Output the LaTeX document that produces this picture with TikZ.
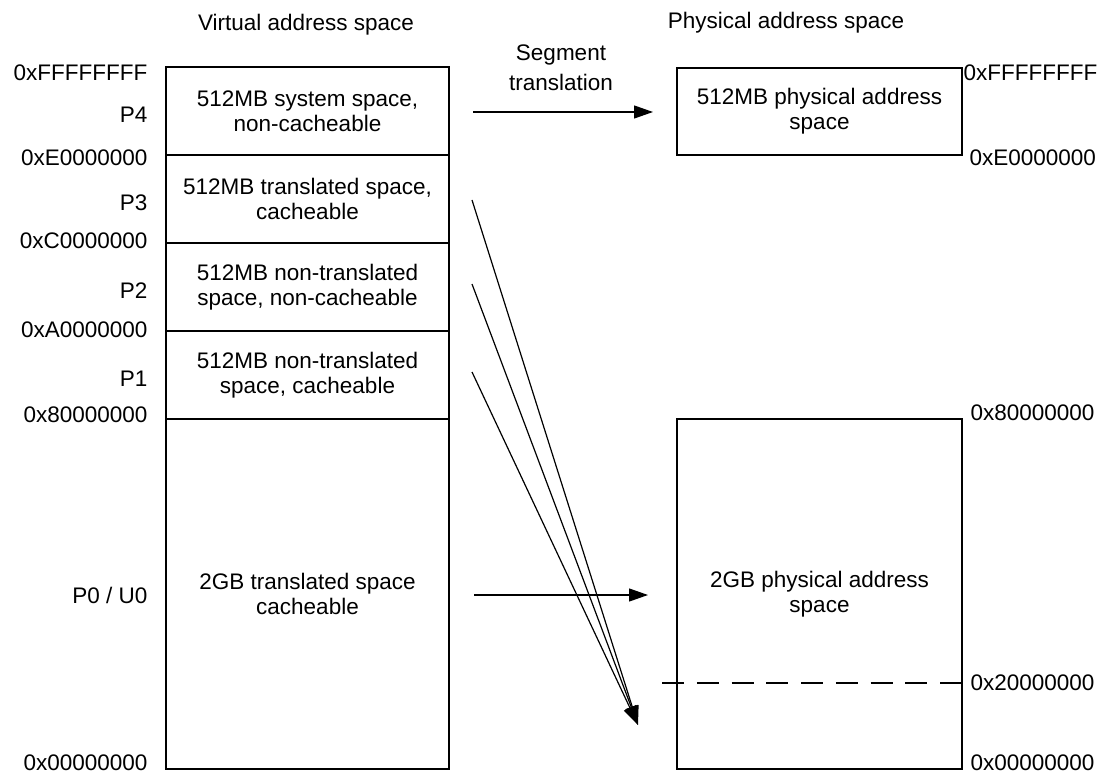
\documentclass[tikz,border=0pt]{standalone}
\usepackage{fontspec}
\setmainfont{Liberation Sans}
\usetikzlibrary{arrows.meta}
\begin{document}
\begin{tikzpicture}[x=1pt,y=-1pt,
  font=\fontsize{22.5}{25}\selectfont,
  line width=1.2pt,
  seg/.style={draw, minimum width=283pt, inner sep=0pt, align=center},
  pseg/.style={draw, minimum width=285pt, inner sep=0pt, align=center},
  addrL/.style={inner sep=0pt, anchor=east},
  addrR/.style={inner sep=0pt, anchor=west},
  hdr/.style={inner sep=0pt, anchor=base},
  arr/.style={-{Triangle[length=19pt,width=13pt]}},
  dashline/.style={line width=2.2pt, dash pattern=on 22pt off 12.75pt}]
\useasboundingbox (0,0) rectangle (1108,775);

% headers
\node[hdr] (vh) at (306,31) {Virtual address space};
\node[hdr] (ph) at (786,29) {Physical address space};
\node[hdr] (st1) at (561,61) {Segment};
\node[hdr] (st2) at (561,91) {translation};

% virtual segments
\node[seg, minimum height=88pt] (p4) at (307.5,111) {512MB system space,\\non-cacheable};
\node[seg, minimum height=88pt] (p3) at (307.5,199) {512MB translated space,\\cacheable};
\node[seg, minimum height=88pt] (p2) at (307.5,287) {512MB non-translated\\space, non-cacheable};
\node[seg, minimum height=88pt] (p1) at (307.5,375) {512MB non-translated\\space, cacheable};
\node[seg, minimum height=350pt] (p0) at (307.5,594) {2GB translated space\\cacheable};

% physical segments
\node[pseg, minimum height=87pt] (q4) at (819.5,111.5) {512MB physical address\\space};
\node[pseg, minimum height=350pt] (q0) at (819.5,594) {2GB physical address\\space};

% left labels
\node[addrL] (lF) at (148,73) {0xFFFFFFFF};
\node[addrL] (lP4) at (148,115) {P4};
\node[addrL] (lE) at (148,158) {0xE0000000};
\node[addrL] (lP3) at (148,203) {P3};
\node[addrL] (lC) at (148,241) {0xC0000000};
\node[addrL] (lP2) at (148,291) {P2};
\node[addrL] (lA) at (148,330) {0xA0000000};
\node[addrL] (lP1) at (148,379) {P1};
\node[addrL] (l8) at (148,415) {0x80000000};
\node[addrL] (lP0) at (148,595) {P0 / U0};
\node[addrL] (l0) at (148,763) {0x00000000};

% right labels
\node[addrR] (rF) at (963,73) {0xFFFFFFFF};
\node[addrR] (rE) at (969,158) {0xE0000000};
\node[addrR] (r8) at (970,413) {0x80000000};
\node[addrR] (r2) at (970,683) {0x20000000};
\node[addrR] (r0) at (970,763) {0x00000000};

% arrows
\coordinate (a4s) at (473,112);
\coordinate (a4e) at (653,112);
\coordinate (a0s) at (474,595);
\coordinate (a0e) at (648,595);
\coordinate (s3) at (472,200);
\coordinate (s2) at (472,284);
\coordinate (s1) at (472,372);
\coordinate (tip) at (638,725);
\draw[arr] (a4s) -- (a4e);
\draw[arr] (a0s) -- (a0e);
\draw[arr] (s3) -- (tip);
\draw[arr] (s2) -- (tip);
\draw[arr] (s1) -- (tip);

% dashed boundary
\coordinate (d1) at (662,683);
\coordinate (d2) at (962,683);
\draw[dashline] (d1) -- (d2);
\end{tikzpicture}
\end{document}
